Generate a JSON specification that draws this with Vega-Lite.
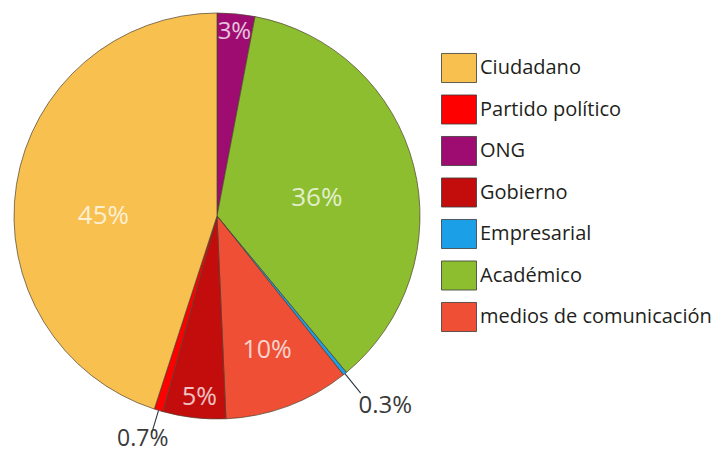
{
  "$schema": "https://vega.github.io/schema/vega-lite/v6.json",
  "autosize": "none",
  "padding": {"left": 0, "top": 0, "right": 291, "bottom": 21},
  "width": 434,
  "height": 432,
  "background": "white",
  "config": {"view": {"stroke": null}},
  "data": {
    "values": [
      {"category": "ONG", "value": 0.03, "order": 1},
      {"category": "Académico", "value": 0.36, "order": 2},
      {"category": "Empresarial", "value": 0.003, "order": 3},
      {"category": "medios de comunicación", "value": 0.10, "order": 4},
      {"category": "Gobierno", "value": 0.05, "order": 5},
      {"category": "Partido político", "value": 0.007, "order": 6},
      {"category": "Ciudadano", "value": 0.45, "order": 7}
    ]
  },
  "encoding": {
    "theta": {"field": "value", "type": "quantitative", "stack": true},
    "order": {"field": "order", "type": "quantitative"},
    "detail": {"field": "category", "type": "nominal"},
    "text": {"field": "value", "type": "quantitative", "format": ".1~%"}
  },
  "layer": [
    {
      "mark": {"type": "arc", "outerRadius": 203, "stroke": "#4d4030", "strokeWidth": 0.7},
      "encoding": {
        "color": {
          "field": "category",
          "type": "nominal",
          "scale": {
            "domain": ["Ciudadano", "Partido político", "ONG", "Gobierno", "Empresarial", "Académico", "medios de comunicación"],
            "range": ["#F8C04E", "#FE0000", "#9E0C72", "#C30D0D", "#1B9FE6", "#8DBE2F", "#EE4F35"]
          },
          "legend": {
            "title": null,
            "orient": "none",
            "legendX": 441,
            "legendY": 50,
            "padding": 0,
            "symbolType": "M-1,-0.83L1,-0.83L1,0.83L-1,0.83Z",
            "symbolSize": 1225,
            "symbolStrokeColor": "#3a3a3a",
            "symbolStrokeWidth": 0.8,
            "symbolOpacity": 1,
            "rowPadding": 6.5,
            "labelOffset": 3,
            "labelFont": "Open Sans",
            "labelFontSize": 20,
            "labelColor": "#231f20",
            "labelLimit": 300
          }
        }
      }
    },
    {
      "mark": {"type": "arc", "innerRadius": 203, "outerRadius": 228, "padAngle": 0.1, "fillOpacity": 0, "stroke": "#2b3645", "strokeWidth": 1.1},
      "encoding": {
        "strokeOpacity": {"condition": {"test": "datum.value < 0.01", "value": 1}, "value": 0}
      }
    },
    {
      "mark": {"type": "text", "radius": 115, "dy": 18, "font": "Open Sans", "fontSize": 26, "fill": "white", "baseline": "middle", "align": "center"},
      "encoding": {
        "opacity": {"condition": {"test": "datum.category == 'Ciudadano'", "value": 0.75}, "value": 0}
      }
    },
    {
      "mark": {"type": "text", "radius": 103, "dy": 8, "font": "Open Sans", "fontSize": 26, "fill": "white", "baseline": "middle", "align": "center"},
      "encoding": {
        "opacity": {"condition": {"test": "datum.category == 'Académico'", "value": 0.75}, "value": 0}
      }
    },
    {
      "mark": {"type": "text", "radius": 185, "font": "Open Sans", "fontSize": 24, "fill": "white", "baseline": "middle", "align": "center"},
      "encoding": {
        "opacity": {"condition": {"test": "datum.category == 'ONG'", "value": 0.75}, "value": 0}
      }
    },
    {
      "mark": {"type": "text", "radius": 143, "font": "Open Sans", "fontSize": 25, "fill": "white", "baseline": "middle", "align": "center"},
      "encoding": {
        "opacity": {"condition": {"test": "datum.category == 'medios de comunicación'", "value": 0.75}, "value": 0}
      }
    },
    {
      "mark": {"type": "text", "radius": 182, "dx": 3, "font": "Open Sans", "fontSize": 25, "fill": "white", "baseline": "middle", "align": "center"},
      "encoding": {
        "opacity": {"condition": {"test": "datum.category == 'Gobierno'", "value": 0.75}, "value": 0}
      }
    },
    {
      "mark": {"type": "text", "radius": 245, "dx": 14, "font": "Open Sans", "fontSize": 24, "fill": "#3a3a3a", "baseline": "middle", "align": "center"},
      "encoding": {
        "opacity": {"condition": {"test": "datum.category == 'Empresarial'", "value": 1}, "value": 0}
      }
    },
    {
      "mark": {"type": "text", "radius": 237, "dx": -6, "dy": -4, "font": "Open Sans", "fontSize": 23, "fill": "#3a3a3a", "baseline": "middle", "align": "center"},
      "encoding": {
        "opacity": {"condition": {"test": "datum.category == 'Partido político'", "value": 1}, "value": 0}
      }
    }
  ]
}
